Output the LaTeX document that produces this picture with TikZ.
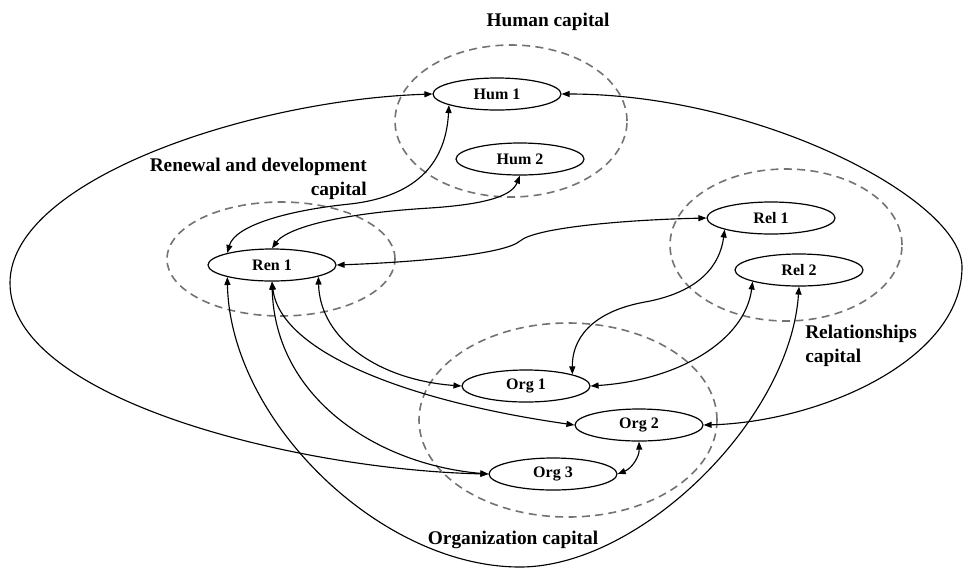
\documentclass[tikz,border=0pt]{standalone}
\usepackage{fontspec}
\setmainfont{Liberation Serif}
\usetikzlibrary{shapes.geometric,arrows.meta}
\begin{document}
\begin{tikzpicture}[x=0.75pt,y=-0.75pt,
  box/.style={ellipse,draw,line width=0.9pt,minimum width=96pt,minimum height=24pt,inner sep=0pt,font=\fontsize{12}{14}\selectfont\bfseries},
  grp/.style={draw=black!55,dash pattern=on 6pt off 4pt,line width=1.2pt},
  lab/.style={font=\fontsize{14.5}{17.5}\selectfont\bfseries,inner sep=0pt},
  link/.style={line width=0.85pt,{Triangle[length=6pt,width=4.5pt]}-{Triangle[length=6pt,width=4.5pt]}}]
\useasboundingbox (0,0) rectangle (963,569);

% group outlines
\draw[grp] (511,121) ellipse [x radius=87pt, y radius=57pt];
\draw[grp] (281,259) ellipse [x radius=85.5pt, y radius=42.75pt];
\draw[grp] (786,245) ellipse [x radius=87pt, y radius=57pt];
\draw[grp] (568,420) ellipse [x radius=111.75pt, y radius=72.75pt];

% nodes
\node[box] (hum1) at (497,94) {Hum 1};
\node[box] (hum2) at (520,159) {Hum 2};
\node[box] (ren1) at (272,265) {Ren 1};
\node[box] (rel1) at (771,218) {Rel 1};
\node[box] (rel2) at (799,270) {Rel 2};
\node[box] (org1) at (526,386) {Org 1};
\node[box] (org2) at (639,425) {Org 2};
\node[box] (org3) at (553,474) {Org 3};

% labels
\node[lab] (lhum) at (548,22) {Human capital};
\node[lab,align=right,anchor=east] (lren) at (367,179) {Renewal and development\\capital};
\node[lab,align=left,anchor=west] (lrel) at (805,346) {Relationships\\capital};
\node[lab] (lorg) at (513,540) {Organization capital};

% connectors
\draw[link] (hum1.west) .. controls (250,100) and (10,180) .. (10,283)
  .. controls (10,400) and (300,470) .. (org3.west);
\draw[link] (hum1.east) .. controls (760,94) and (962,200) .. (962,267)
  .. controls (962,360) and (820,422) .. (org2.east);
\draw[link] (ren1.165) .. controls (235,225) and (290,210) .. (350,204)
  .. controls (420,196) and (446,160) .. (hum1.193);
\draw[link] (ren1.90) .. controls (285,230) and (330,214) .. (430,208)
  .. controls (490,204) and (512,195) .. (hum2.270);
\draw[link] (ren1.east) .. controls (420,262) and (505,254) .. (520,241)
  .. controls (535,228) and (620,220) .. (rel1.west);
\draw[link] (org1.14) .. controls (572,340) and (590,312) .. (645,302)
  .. controls (700,292) and (720,265) .. (rel1.194);
\draw[link] (org1.east) .. controls (680,380) and (745,340) .. (rel2.194);
\draw[link] (ren1.195) .. controls (230,420) and (380,567) .. (520,567)
  .. controls (640,567) and (790,420) .. (rel2.270);
\draw[link] (ren1.346) .. controls (320,340) and (380,380) .. (org1.west);
\draw[link] (ren1.270) .. controls (280,350) and (400,400) .. (org2.west);
\draw[link] (ren1.270) .. controls (275,400) and (380,465) .. (org3.west);
\draw[link] (org3.east) to[bend right=35] (org2.270);
\end{tikzpicture}
\end{document}
